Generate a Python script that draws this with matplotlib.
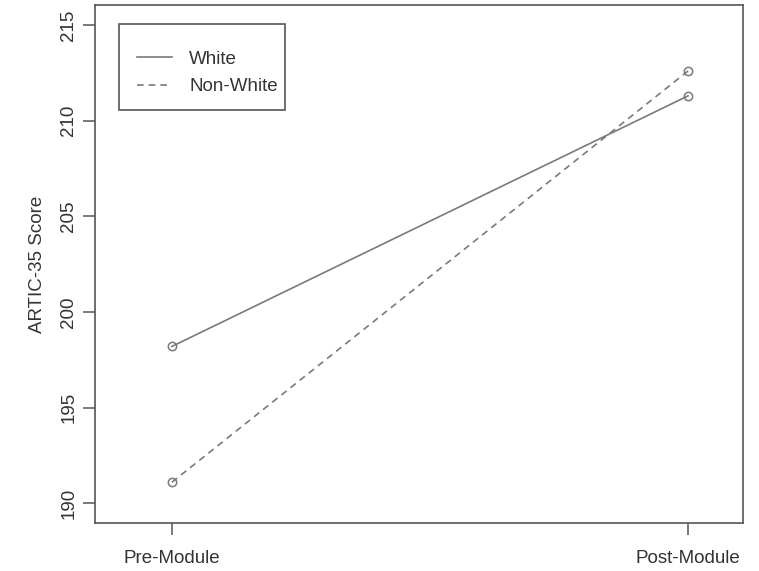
import matplotlib
matplotlib.use("Agg")
import matplotlib.pyplot as plt
from matplotlib.patches import Rectangle

# Data
time_points = ["Pre-Module", "Post-Module"]
white_scores = [198.2, 211.3]
nonwhite_scores = [191.1, 212.6]
y_ticks = [190, 195, 200, 205, 210, 215]
series_labels = ["White", "Non-White"]

plt.rcParams['font.family'] = ['Liberation Sans', 'DejaVu Sans']
text_color = "#333333"
line_color = "#7a7a7a"
frame_color = "#555555"

fig = plt.figure(figsize=(7.59, 5.71), dpi=100)
ax = fig.add_axes([95/759, 1 - 523/571, (743-95)/759, (523-5)/571])

x = [1, 2]
ax.plot(x, white_scores, color=line_color, lw=1.2, marker='o', ms=6,
        mfc='none', mec=line_color, mew=1.1, label=series_labels[0])
ax.plot(x, nonwhite_scores, color=line_color, lw=1.2, marker='o', ms=6,
        mfc='none', mec=line_color, mew=1.1, dashes=(4, 3), label=series_labels[1])

ax.set_xlim(0.851, 2.1065)
ax.set_ylim(188.97, 216.05)
ax.set_xticks(x)
ax.set_xticklabels(time_points)
ax.set_yticks(y_ticks)
ax.set_yticklabels([str(v) for v in y_ticks], rotation=90, va='center')

for s in ax.spines.values():
    s.set_color(frame_color)
    s.set_linewidth(1.2)

ax.tick_params(axis='both', colors=frame_color, labelcolor=text_color,
               labelsize=13.5, length=8.8, width=1.1)
ax.tick_params(axis='x', pad=10.5)
ax.tick_params(axis='y', pad=4)

ax.set_ylabel("ARTIC-35 Score", fontsize=13.5, color=text_color, labelpad=10.5)

# legend box (drawn as a frame in axes coordinates)
ax.add_patch(Rectangle((0.037, 0.7973), 0.2562, 0.166, transform=ax.transAxes,
                       fill=False, edgecolor=frame_color, lw=1.2, zorder=5))

leg = ax.legend(loc='upper left', bbox_to_anchor=(0.0355, 0.948), borderaxespad=0,
                frameon=False, fontsize=13.5, handlelength=1.9, handletextpad=0.9,
                borderpad=1.0, labelspacing=0.55, labelcolor=text_color)
for h in leg.legend_handles:
    h.set_marker('')

fig.savefig("out.png", dpi=100)
